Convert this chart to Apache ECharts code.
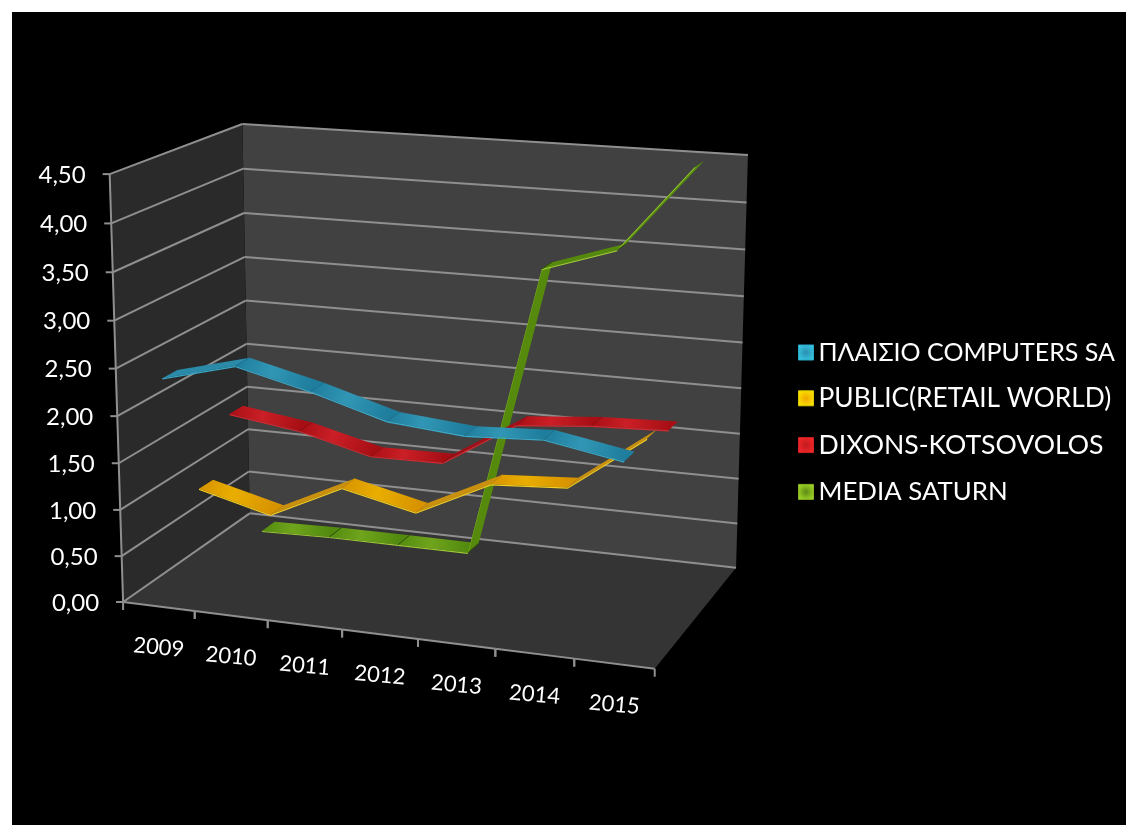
<!DOCTYPE html>
<html>
<head>
<meta charset="utf-8">
<title>Retail sales</title>
<script src="https://cdn.jsdelivr.net/npm/echarts@6/dist/echarts.min.js"></script>
<style>
  html, body { margin: 0; height: 100%; background: #fff; overflow: hidden; }
  #panel { position: absolute; left: 12px; top: 12px; right: 0; bottom: 0; background: #000; }
  #chart { position: absolute; left: 0; top: 0; width: 1126px; height: 825px; }
</style>
</head>
<body>
<div id="panel"></div>
<div id="chart"></div>
<script>
const years = ['2009', '2010', '2011', '2012', '2013', '2014', '2015'];
const valueTicks = [0, 0.5, 1, 1.5, 2, 2.5, 3, 3.5, 4, 4.5];
const plaisioName = 'ΠΛΑΙΣΙΟ COMPUTERS SA';
const publicName = 'PUBLIC(RETAIL WORLD)';
const dixonsName = 'DIXONS-KOTSOVOLOS';
const mediaName = 'MEDIA SATURN';
const plaisioValues = [2.38, 2.58, 2.39, 2.16, 2.09, 2.13, 1.99];
const publicValues = [0.97, 0.77, 1.15, 0.97, 1.36, 1.41, 2.0];
const dixonsValues = [1.58, 1.47, 1.27, 1.28, 1.77, 1.84, 1.87];
const mediaValues = [0.01, 0.03, 0.03, 0.03, 3.26, 3.52, 4.45];

// Box the 3D-style plot lives in: screen position of known (u, v, w) points,
// where u runs along the years, v up the values and w into the depth.
const camera = [
  [0, 0, 0, 123, 602], [1, 0, 0, 655, 668], [1, 0, 1, 736, 568], [0, 0, 1, 250, 513],
  [0, 1, 0, 110, 174], [0, 1, 1, 242, 124], [1, 1, 1, 748, 155],
  [3 / 7, 0, 0, 342, 630], [5 / 7, 0, 0, 495, 649]
];

// Least-squares fit of the projective map x = (a u + b v + c w + d) / (i u + j v + k w + 1).
function fitProjection(points) {
  const rows = [];
  points.forEach(([u, v, w, x, y]) => {
    rows.push([u, v, w, 1, 0, 0, 0, 0, -x * u, -x * v, -x * w, x]);
    rows.push([0, 0, 0, 0, u, v, w, 1, -y * u, -y * v, -y * w, y]);
  });
  const n = 11;
  const m = [];
  for (let r = 0; r < n; r++) {
    m.push(new Array(n + 1).fill(0));
    for (let c = 0; c <= n; c++) {
      rows.forEach(row => { m[r][c] += row[r] * row[c]; });
    }
  }
  for (let p = 0; p < n; p++) {
    let best = p;
    for (let r = p + 1; r < n; r++) if (Math.abs(m[r][p]) > Math.abs(m[best][p])) best = r;
    [m[p], m[best]] = [m[best], m[p]];
    for (let r = 0; r < n; r++) {
      if (r === p) continue;
      const f = m[r][p] / m[p][p];
      for (let c = p; c <= n; c++) m[r][c] -= f * m[p][c];
    }
  }
  return m.map((row, r) => row[n] / row[r]);
}
const P = fitProjection(camera);
function project(u, v, w) {
  const q = P[8] * u + P[9] * v + P[10] * w + 1;
  return [
    (P[0] * u + P[1] * v + P[2] * w + P[3]) / q,
    (P[4] * u + P[5] * v + P[6] * w + P[7]) / q
  ];
}

// The cartesian grid supplies the scales; its rectangle is the unit square of (u, v).
const face = { left: 123, top: 174, width: 532, height: 428 };
function unit(api, cat, val) {
  const c = api.coord([cat, val]);
  return [(c[0] - face.left) / face.width, 1 - (c[1] - face.top) / face.height];
}

const lineStyle = { stroke: '#8f8f8f', lineWidth: 2, fill: null };
function seg(a, b) {
  return { type: 'line', shape: { x1: a[0], y1: a[1], x2: b[0], y2: b[1] }, style: lineStyle };
}
function poly(points, fill) {
  return { type: 'polygon', shape: { points }, style: { fill } };
}

const wallSeries = {
  type: 'custom', z: 1, silent: true, legendHoverLink: false,
  data: [[0, 0]],
  renderItem() {
    const a = project(0, 0, 0), b = project(1, 0, 0), c = project(1, 0, 1), d = project(0, 0, 1);
    const e = project(0, 1, 0), f = project(0, 1, 1), g = project(1, 1, 1);
    return {
      type: 'group',
      children: [
        poly([d, f, g, c], '#414141'),
        poly([a, e, f, d], '#2a2a2a'),
        poly([a, b, c, d], '#343434')
      ]
    };
  }
};

const valueAxisSeries = {
  type: 'custom', z: 2, silent: true, legendHoverLink: false,
  encode: { x: 0, y: 1 },
  data: valueTicks.map(t => [0, t]),
  renderItem(params, api) {
    const t = api.value(1);
    const v = unit(api, 0, t)[1];
    const a = project(0, v, 0), b = project(0, v, 1), c = project(1, v, 1);
    return {
      type: 'group',
      children: [
        seg([a[0] - 7, a[1]], a), seg(a, b), seg(b, c),
        {
          type: 'text',
          style: {
            x: a[0] - 24, y: a[1] + 1,
            text: t.toFixed(2).replace('.', ','),
            fill: '#fff', font: '24px Lato', textAlign: 'right', textVerticalAlign: 'middle'
          }
        }
      ]
    };
  }
};

const yearAxisSeries = {
  type: 'custom', z: 2, silent: true, legendHoverLink: false,
  encode: { x: 0, y: 1 },
  data: years.map((y, i) => [i, 0]),
  renderItem(params, api) {
    const i = api.value(0);
    const half = unit(api, 0, 0)[0];
    const u = unit(api, i, 0)[0];
    const s = project(u - half, 0, 0), e = project(u + half, 0, 0), m = project(u, 0, 0);
    const children = [seg(s, e), seg(s, [s[0], s[1] + 8]), seg(e, [e[0], e[1] + 8])];
    children.push({
      type: 'text', x: m[0], y: m[1] + 41, rotation: -0.09,
      style: {
        x: 0, y: 0, text: years[i], fill: '#fff', font: '22px Lato',
        textAlign: 'center', textVerticalAlign: 'middle'
      }
    });
    return { type: 'group', children };
  }
};
const leftEdgeSeries = {
  type: 'custom', z: 2, silent: true, legendHoverLink: false,
  data: [[0, 0]],
  renderItem() {
    return seg(project(0, 0, 0), project(0, 1, 0));
  }
};

// One ribbon: a flat strip at a fixed depth with a thin lit edge along its front.
function ribbon(name, values, depth, look, z) {
  const halfDepth = 0.055;
  const edge = 0.003;
  return {
    type: 'custom', name, z,
    silent: true,
    itemStyle: { color: look.legend },
    encode: { x: 0, y: 1 },
    data: values.map((v, i) => [i, v]),
    renderItem(params, api) {
      const i = api.value(0);
      if (i >= values.length - 1) return null;
      const rising = values[i + 1] - values[i] > 0.1;
      const p0 = unit(api, i, api.value(1));
      const p1 = unit(api, i + 1, values[i + 1]);
      const a = project(p0[0], p0[1], depth - halfDepth);
      const b = project(p1[0], p1[1], depth - halfDepth);
      const c = project(p1[0], p1[1], depth + halfDepth);
      const d = project(p0[0], p0[1], depth + halfDepth);
      const a2 = project(p0[0], p0[1] - edge, depth - halfDepth);
      const b2 = project(p1[0], p1[1] - edge, depth - halfDepth);
      const fill = rising ? look.rise : {
        type: 'linear', global: true,
        x: a[0], y: a[1], x2: b[0], y2: b[1],
        colorStops: [
          { offset: 0, color: look.dark },
          { offset: 0.45, color: look.main },
          { offset: 1, color: look.dark }
        ]
      };
      const children = [
        poly([a, b, c, d], fill),
        poly([a2, b2, b, a], look.edge)
      ];
      if (i > 0) {
        children.push({
          type: 'line',
          shape: { x1: a[0], y1: a[1], x2: d[0], y2: d[1] },
          style: { stroke: look.seam, lineWidth: 1 }
        });
      }
      return { type: 'group', children };
    }
  };
}

function legendSwatch(centre, rim, border) {
  return {
    color: {
      type: 'radial', x: 0.5, y: 0.5, r: 0.7,
      colorStops: [{ offset: 0, color: centre }, { offset: 1, color: rim }]
    },
    borderColor: border, borderWidth: 1
  };
}
function legendEntry(name, size, swatch) {
  return { name, itemStyle: swatch, textStyle: { fontSize: size, lineHeight: 25, color: '#fff', fontFamily: 'Lato' } };
}

const chart = echarts.init(document.getElementById('chart'));
chart.setOption({
  animation: false,
  backgroundColor: 'transparent',
  grid: Object.assign({ containLabel: false }, face),
  xAxis: { type: 'category', data: years, show: false, boundaryGap: true },
  yAxis: { type: 'value', min: 0, max: 4.5, interval: 0.5, show: false },
  legend: {
    orient: 'vertical', left: 798, top: 340, padding: 0,
    itemWidth: 15, itemHeight: 15, itemGap: 20.3,
    icon: 'rect',
    textStyle: { color: '#fff', fontFamily: 'Lato', fontSize: 25, lineHeight: 25 },
    selectedMode: false,
    data: [
      legendEntry(plaisioName, 25, legendSwatch('#2a8fb0', '#3bd4ee', '#2aa8c8')),
      legendEntry(publicName, 26.3, legendSwatch('#f0a800', '#fff200', '#d8c800')),
      legendEntry(dixonsName, 26.6, legendSwatch('#c01a20', '#ff2a2a', '#d02020')),
      legendEntry(mediaName, 25.8, legendSwatch('#5d8a14', '#b0e82a', '#88b020'))
    ]
  },
  series: [
    wallSeries, valueAxisSeries, yearAxisSeries, leftEdgeSeries,
    ribbon(mediaName, mediaValues, 7 / 8,
      { legend: '#8fc31f', main: '#6fa41c', dark: '#528a0f', rise: '#558a0c', edge: '#9cc835', seam: '#2f4f08' }, 3),
    ribbon(dixonsName, dixonsValues, 5 / 8,
      { legend: '#e0201f', main: '#cb1f26', dark: '#a80f15', rise: '#a01018', edge: '#d82830', seam: '#900b10' }, 4),
    ribbon(publicName, publicValues, 3 / 8,
      { legend: '#f0c000', main: '#e9ae00', dark: '#d89300', rise: '#c9900f', edge: '#f5cf20', seam: '#c88a00' }, 5),
    ribbon(plaisioName, plaisioValues, 1 / 8,
      { legend: '#2ba0c0', main: '#3196b5', dark: '#1f7d9d', rise: '#2a8aa8', edge: '#38a8c8', seam: '#1a7392' }, 6)
  ]
});
</script>
</body>
</html>
